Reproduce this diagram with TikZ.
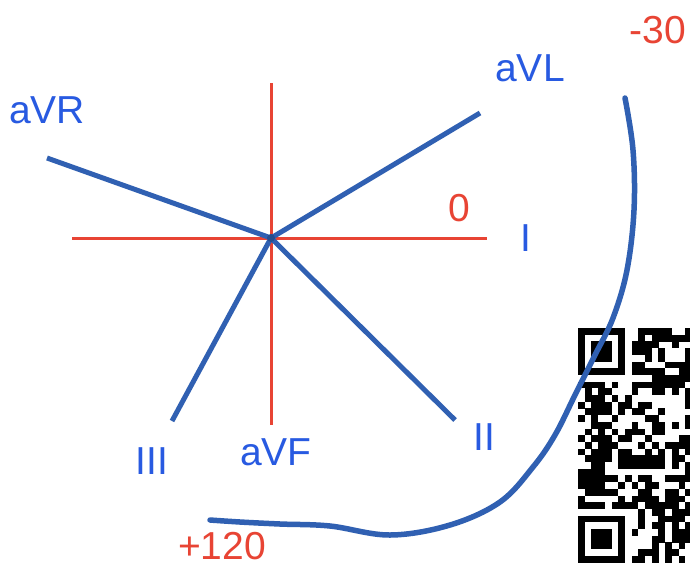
\documentclass[tikz,border=0pt]{standalone}
\usepackage{fontspec}
\setmainfont{Liberation Sans}
\definecolor{lblue}{RGB}{48,96,178}
\definecolor{tblue}{RGB}{40,90,225}
\definecolor{lred}{RGB}{232,68,52}
\begin{document}
\begin{tikzpicture}[x=1pt,y=-1pt,
  axis/.style={draw=lred,line width=3pt},
  lead/.style={draw=lblue,line width=5pt},
  btxt/.style={text=tblue,font=\fontsize{39}{42}\selectfont,inner sep=0pt},
  rtxt/.style={text=lred,font=\fontsize{39}{42}\selectfont,inner sep=0pt},
  qr/.style={fill=black}]
\useasboundingbox (0,0) rectangle (690,571);
\fill[white] (0,0) rectangle (690,571);
% axes
\coordinate (c) at (271,238);
\coordinate (hl) at (72,238);
\coordinate (hr) at (487,238);
\coordinate (vt) at (271,83);
\coordinate (vb) at (271,425);
\draw[axis] (hl) -- (hr);
\draw[axis] (vt) -- (vb);
% leads
\coordinate (eavl) at (480,113);
\coordinate (eavr) at (47,158);
\coordinate (eiii) at (172,421);
\coordinate (eii) at (455,420);
\draw[lead] (c) -- (eavl);
\draw[lead] (eavr) -- (c);
\draw[lead] (c) -- (eiii);
\draw[lead] (c) -- (eii);
\fill[lblue!80!black] (c) circle (4);
% labels
\node[btxt] (avr) at (47,110) {aVR};
\node[btxt] (avl) at (530,68) {aVL};
\node[rtxt] (m30) at (658,30) {-30};
\node[rtxt] (zero) at (459,208) {0};
\node[btxt] (lI) at (526,238) {I};
\node[btxt] (lIII) at (152,461) {III};
\node[btxt] (avf) at (276,452) {aVF};
\node[btxt] (lII) at (484,437) {II};
\node[rtxt] (p120) at (222,546) {+120};
% QR code
\begin{scope}
\clip (570,320) rectangle (690,571);
\pgfmathsetseed{4242}
\foreach \i in {0,...,17}{
  \foreach \j in {0,...,34}{
    \pgfmathrandominteger{\qr}{0}{99}
    \pgfmathtruncatemacro\qsk{and(\i<8,or(\j<8,\j>26))}
    \ifnum\qsk=0 \ifnum\qr<52
      \fill[qr] (578+\i*6.7,328+\j*6.7) rectangle ++(6.8,6.8);
    \fi\fi
  }}
\foreach \y in {328,515.6}{
  \fill[black] (578,\y) rectangle ++(46.9,46.9);
  \fill[white] (584.7,\y+6.7) rectangle ++(33.5,33.5);
  \fill[black] (591.4,\y+13.4) rectangle ++(20.1,20.1);
}
\end{scope}
% curve
\draw[lblue,line width=5.5pt,line cap=round] plot[smooth,tension=0.6] coordinates {
 (625,98) (633,150) (634,210) (627,270) (613,318) (595,355) (575,395)
 (555,435) (533,467) (500,502) (450,525) (390,535) (330,526) (280,524)
 (240,522) (210,520)};
\end{tikzpicture}
\end{document}
